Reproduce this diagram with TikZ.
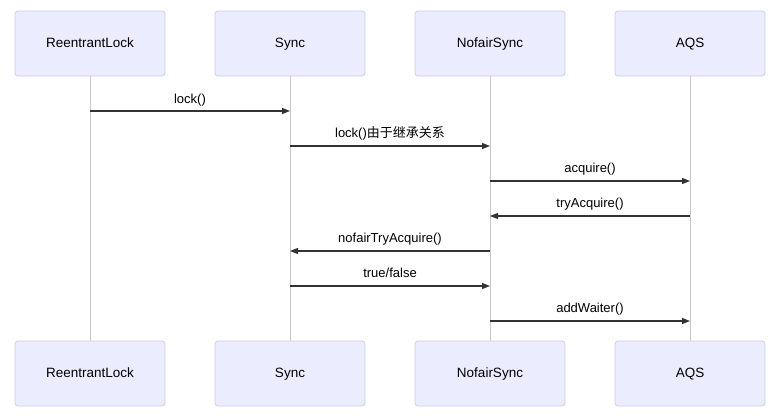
\documentclass[tikz,border=0pt]{standalone}
\usepackage{fontspec}
\setmainfont{Liberation Sans}
\newfontfamily\cjkfont{Noto Sans CJK SC}
\usetikzlibrary{arrows.meta}
\definecolor{actorfill}{HTML}{ECECFF}
\definecolor{actorline}{HTML}{D2CAF0}
\definecolor{lifeline}{HTML}{C8C8C8}
\definecolor{msgline}{HTML}{333333}

\begin{document}
\begin{tikzpicture}[
    x=1pt, y=-1pt,
    actor/.style={
        rectangle,
        rounded corners=3pt,
        draw=actorline,
        fill=actorfill,
        line width=0.8pt,
        minimum width=150pt,
        minimum height=65pt,
        text height=10pt,
        text depth=3pt,
        font=\fontsize{13.5}{16}\selectfont
    },
    life/.style={line width=0.9pt, lifeline},
    msglabel/.style={font=\fontsize{13}{15}\selectfont, inner sep=0pt, text height=10pt, text depth=3pt},
    msg/.style={-{Triangle[length=8pt,width=6pt]}, line width=1.2pt, msgline}
]
\useasboundingbox (0,0) rectangle (780,416);

% actors, top row
\node[actor] (rlT) at (90,43.5) {ReentrantLock};
\node[actor] (syT) at (290,43.5) {Sync};
\node[actor] (nfT) at (490,43.5) {NofairSync};
\node[actor] (aqT) at (690,43.5) {AQS};

% actors, bottom row
\node[actor] (rlB) at (90,373.5) {ReentrantLock};
\node[actor] (syB) at (290,373.5) {Sync};
\node[actor] (nfB) at (490,373.5) {NofairSync};
\node[actor] (aqB) at (690,373.5) {AQS};

% lifelines
\draw[life] (rlT) -- (rlB);
\draw[life] (syT) -- (syB);
\draw[life] (nfT) -- (nfB);
\draw[life] (aqT) -- (aqB);

% messages
\node[msglabel] (m1) at (190,100) {lock()};
\node[msglabel] (m2) at (390,134) {lock(){\cjkfont 由于继承关系}};
\node[msglabel] (m3) at (590,169) {acquire()};
\node[msglabel] (m4) at (590,204) {tryAcquire()};
\node[msglabel] (m5) at (390,239) {nofairTryAcquire()};
\node[msglabel] (m6) at (390,274) {true/false};
\node[msglabel] (m7) at (590,309) {addWaiter()};

\draw[msg] ([yshift=-11pt]rlT |- m1) -- ([yshift=-11pt]syT |- m1);
\draw[msg] ([yshift=-12pt]syT |- m2) -- ([yshift=-12pt]nfT |- m2);
\draw[msg] ([yshift=-12pt]nfT |- m3) -- ([yshift=-12pt]aqT |- m3);
\draw[msg] ([yshift=-12pt]aqT |- m4) -- ([yshift=-12pt]nfT |- m4);
\draw[msg] ([yshift=-12pt]nfT |- m5) -- ([yshift=-12pt]syT |- m5);
\draw[msg] ([yshift=-12pt]syT |- m6) -- ([yshift=-12pt]nfT |- m6);
\draw[msg] ([yshift=-12pt]nfT |- m7) -- ([yshift=-12pt]aqT |- m7);
\end{tikzpicture}
\end{document}
